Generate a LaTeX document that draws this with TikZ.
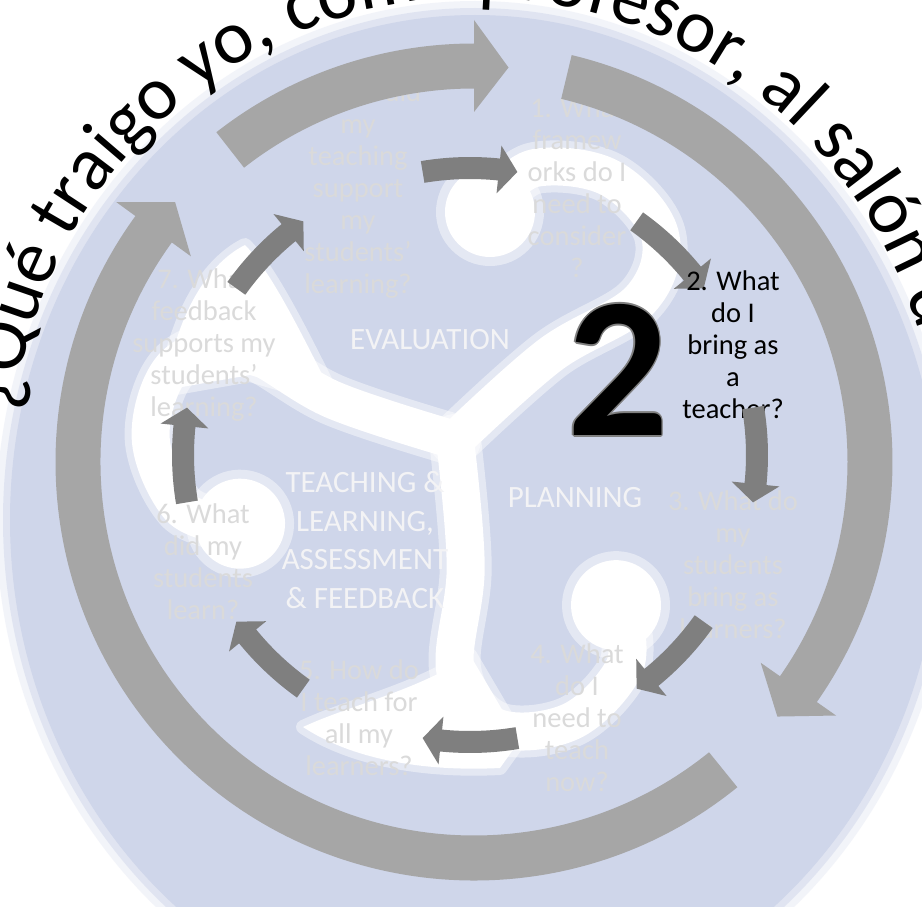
\documentclass[tikz,border=0pt]{standalone}
\usepackage{fontspec}
\setmainfont{Carlito}
\usetikzlibrary{decorations.text}
\definecolor{diskblue}{HTML}{CFD6EA}
\definecolor{outerarr}{HTML}{A6A6A6}
\definecolor{innerarr}{HTML}{7F7F7F}
\definecolor{qgrey}{HTML}{DADADA}
\definecolor{lobetxt}{HTML}{F3F3F5}
\newcommand\ringarrow[6]{({#4}:{#1+#2}) arc[start angle={#4}, end angle={#5}, radius={#1+#2}] -- ({#5}:{#1+#3}) -- ({#6}:{#1}) -- ({#5}:{#1-#3}) -- ({#5}:{#1-#2}) arc[start angle={#5}, end angle={#4}, radius={#1-#2}] -- cycle}
\tikzset{
  qlabel/.style={text=qgrey, align=center, inner sep=0pt, font=\fontsize{28.5}{32}\selectfont},
  lobelabel/.style={text=lobetxt, align=center, inner sep=0pt, font=\fontsize{31}{38.5}\selectfont},
  bigtwo/.style={inner sep=0pt, font=\fontsize{200}{200}\selectfont\bfseries},
  outerarrow/.style={fill=outerarr},
  innerarrow/.style={fill=innerarr},
  swirlsoft/.style={draw=white, line width=52pt, opacity=0.45, line cap=round, line join=round},
  swirlcore/.style={draw=white, line width=38pt, line cap=round, line join=round},
  softfill/.style={fill=white, draw=white, draw opacity=0.45, line width=14pt, line join=round},
}
\begin{document}
\begin{tikzpicture}[x=1pt,y=1pt]
\useasboundingbox (0,0) rectangle (922,-907);
\clip (0,0) rectangle (922,-907);
\fill[white] (0,0) rectangle (922,-907);
% background disk
\coordinate (disk) at (475,-520);
\fill[diskblue, opacity=0.25] (disk) ellipse [x radius=479, y radius=519];
\fill[diskblue, opacity=0.5] (disk) ellipse [x radius=472, y radius=512];
\fill[diskblue] (disk) ellipse [x radius=465, y radius=505];
% white triskelion swirls
\foreach \rot in {0,-127,120} {
  \begin{scope}[shift={(455,-440)}, rotate=\rot]
    \draw[swirlsoft] plot[smooth, tension=0.6] coordinates {(0,0) (95,85) (185,140) (205,205) (155,262) (80,272) (40,240)};
    \fill[white, opacity=0.45] (35,228) circle (54);
    \draw[swirlcore] plot[smooth, tension=0.6] coordinates {(0,0) (95,85) (185,140) (205,205) (155,262) (80,272) (40,240)};
    \fill[white] (35,228) circle (45);
  \end{scope}
}
% extra white wings of the swirls
\filldraw[softfill] (470,-655) .. controls (420,-690) and (350,-705) .. (303,-727)
  .. controls (350,-758) and (420,-772) .. (500,-768) -- (520,-740) -- cycle;
\filldraw[softfill] (335,-400) .. controls (300,-330) and (270,-270) .. (245,-245)
  .. controls (205,-265) and (175,-320) .. (165,-390) -- (250,-375) -- cycle;
% lobe labels
\node[lobelabel] (ev) at (430,-340) {EVALUATION};
\node[lobelabel] (tl) at (365,-540) {TEACHING \&\\LEARNING,\\ASSESSMENT\\\& FEEDBACK};
\node[lobelabel] (pl) at (575,-498) {PLANNING};
% inner arrow 1 -> 2 (below its label)
\begin{scope}[shift={(470,-455)}]
  \fill[innerarrow] \ringarrow{287}{11}{24}{54.5}{39.2}{35.5};
\end{scope}
% question labels
\node[qlabel] (q1) at (577,-188) {1. What\\framew\\orks do I\\need to\\consider\\?};
\node[qlabel, text=black] (q2) at (733,-345) {2. What\\do I\\bring as\\a\\teacher?};
\node[qlabel] (q3) at (733,-565) {3. What do\\my\\students\\bring as\\learners?};
\node[qlabel] (q4) at (577,-718) {4. What\\do I\\need to\\teach\\now?};
\node[qlabel] (q5) at (359,-718) {5. How do\\I teach for\\all my\\learners?};
\node[qlabel] (q6) at (203,-562) {6. What\\did my\\students\\learn?};
\node[qlabel] (q7) at (204,-345) {7. What\\feedback\\supports my\\students’\\learning?};
\node[qlabel] (q8) at (358,-190) {8. How did\\my\\teaching\\support\\my\\students’\\learning?};
% big 2 with grey outline
\foreach \dx/\dy [count=\i] in {1.6/0,-1.6/0,0/1.6,0/-1.6,1.1/1.1,-1.1/1.1,1.1/-1.1,-1.1/-1.1}
  \node[bigtwo, text=gray] (twoedge\i) at ({618+\dx},{-370+\dy}) {2};
\node[bigtwo, text=black] (two) at (618,-370) {2};
% remaining inner arrows
\begin{scope}[shift={(470,-455)}]
  \foreach \t in {90,0,-45,-90,-135,-180,-225}
    \fill[innerarrow] \ringarrow{287}{11}{24}{\t+9.5}{\t-5.8}{\t-9.5};
\end{scope}
% outer ring arrows
\begin{scope}[shift={(474,-462)}]
  \fill[outerarrow] \ringarrow{396}{22.5}{46}{128}{90}{85};
  \fill[outerarrow] \ringarrow{396}{22.5}{46}{76.5}{-35}{-40};
  \fill[outerarrow] \ringarrow{396}{22.5}{46}{-51}{-216}{-221};
\end{scope}
% curved title
\path[decorate, decoration={text along path,
  text={|\fontsize{76}{76}\selectfont|¿Qué traigo yo, como profesor, al salón de clase?}}]
  ([shift={(475,-460)}]174:462) arc[start angle=174, end angle=-60, radius=462];
\end{tikzpicture}
\end{document}
